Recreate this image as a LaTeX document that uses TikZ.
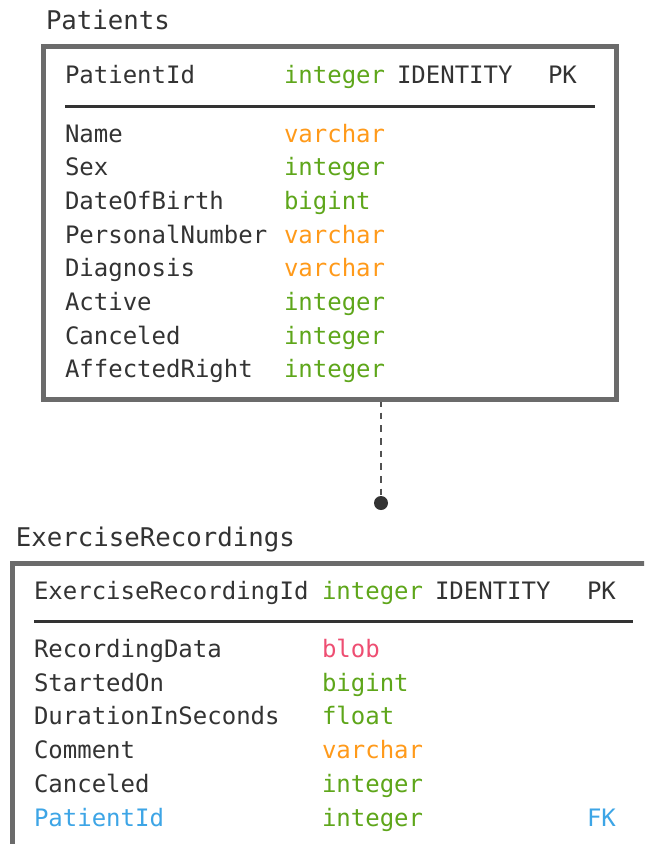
\documentclass[tikz,border=0pt]{standalone}
\usepackage{fontspec}
\newfontfamily\dbmono{DejaVu Sans Mono}
\definecolor{txt}{HTML}{333333}
\definecolor{boxgray}{HTML}{6B6B6B}
\definecolor{tgreen}{HTML}{5EA61A}
\definecolor{torange}{HTML}{FF9A1A}
\definecolor{tpink}{HTML}{EE4E72}
\definecolor{tblue}{HTML}{3DA5E6}
\tikzset{
  lbl/.style={anchor=base west, inner sep=0pt, outer sep=0pt, text=txt, font=\dbmono\fontsize{18}{21}\selectfont},
  ttl/.style={lbl, font=\dbmono\fontsize{19.3}{22}\selectfont},
  tint/.style={lbl, text=tgreen},
  tvar/.style={lbl, text=torange},
  tblob/.style={lbl, text=tpink},
  fkname/.style={lbl, text=tblue},
  tablebox/.style={draw=boxgray, line width=3.75pt, inner sep=0pt, outer sep=0pt, rectangle},
  sepline/.style={draw=txt, line width=2.2pt},
  relline/.style={draw=txt!85, line width=1.6pt, dash pattern=on 5pt off 4.5pt},
}
\begin{document}
\begin{tikzpicture}[x=0.75pt, y=-0.75pt]
\useasboundingbox (0,0) rectangle (644,844);
\clip (0,0) rectangle (644,844);
\fill[white] (0,0) rectangle (644,844);

% connector (drawn first, under borders)
\coordinate (dot) at (381,503);
\coordinate (ptop) at (381,400);
\draw[relline] (ptop) -- (dot);
\fill[txt] (dot) circle (7);

% Patients table
\node[ttl] (ptitle) at (46,29) {Patients};
\node[tablebox, minimum width=429.75pt, minimum height=264.75pt] (pbox) at (330,223) {};
\node[lbl] (p1n) at (65,83) {PatientId};
\node[tint] (p1t) at (284,83) {integer};
\node[lbl] (p1i) at (397,83) {IDENTITY};
\node[lbl] (p1k) at (548,83) {PK};
\coordinate (psepL) at (65,106.5);
\coordinate (psepR) at (595,106.5);
\draw[sepline] (psepL) -- (psepR);
\node[lbl] (p2n) at (65,142) {Name};
\node[tvar] (p2t) at (284,142) {varchar};
\node[lbl] (p3n) at (65,175.7) {Sex};
\node[tint] (p3t) at (284,175.7) {integer};
\node[lbl] (p4n) at (65,209.4) {DateOfBirth};
\node[tint] (p4t) at (284,209.4) {bigint};
\node[lbl] (p5n) at (65,243.1) {PersonalNumber};
\node[tvar] (p5t) at (284,243.1) {varchar};
\node[lbl] (p6n) at (65,276.8) {Diagnosis};
\node[tvar] (p6t) at (284,276.8) {varchar};
\node[lbl] (p7n) at (65,310.5) {Active};
\node[tint] (p7t) at (284,310.5) {integer};
\node[lbl] (p8n) at (65,344.2) {Canceled};
\node[tint] (p8t) at (284,344.2) {integer};
\node[lbl] (p9n) at (65,377.9) {AffectedRight};
\node[tint] (p9t) at (284,377.9) {integer};

% ExerciseRecordings table
\node[ttl] (etitle) at (16,546) {ExerciseRecordings};
\node[tablebox, minimum width=486pt, minimum height=230pt] (ebox) at (336,716.75) {};
\node[lbl] (e1n) at (34,599) {ExerciseRecordingId};
\node[tint] (e1t) at (322,599) {integer};
\node[lbl] (e1i) at (435,599) {IDENTITY};
\node[lbl] (e1k) at (587,599) {PK};
\coordinate (esepL) at (34,621.5);
\coordinate (esepR) at (633,621.5);
\draw[sepline] (esepL) -- (esepR);
\node[lbl] (e2n) at (34,657.5) {RecordingData};
\node[tblob] (e2t) at (322,657.5) {blob};
\node[lbl] (e3n) at (34,691.2) {StartedOn};
\node[tint] (e3t) at (322,691.2) {bigint};
\node[lbl] (e4n) at (34,724.9) {DurationInSeconds};
\node[tint] (e4t) at (322,724.9) {float};
\node[lbl] (e5n) at (34,758.6) {Comment};
\node[tvar] (e5t) at (322,758.6) {varchar};
\node[lbl] (e6n) at (34,792.3) {Canceled};
\node[tint] (e6t) at (322,792.3) {integer};
\node[fkname] (e7n) at (34,826) {PatientId};
\node[tint] (e7t) at (322,826) {integer};
\node[lbl, text=tblue] (e7k) at (587,826) {FK};
\end{tikzpicture}
\end{document}
